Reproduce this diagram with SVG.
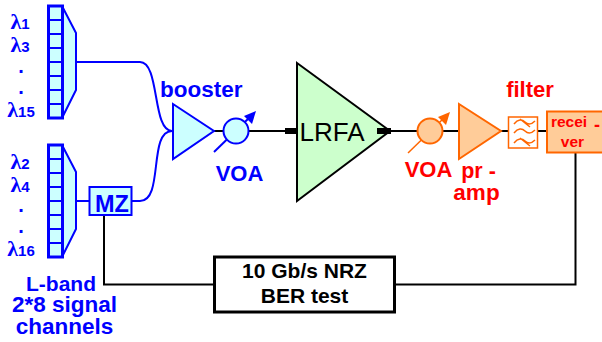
<svg xmlns="http://www.w3.org/2000/svg" width="602" height="342" viewBox="0 0 602 342">
<style>
text{font-family:"Liberation Sans",Arial,sans-serif;font-weight:700}
.b{fill:#0000ff}.r{fill:#ff0000}.k{fill:#000}
.c{text-anchor:middle}
.l{font-family:"Liberation Serif",serif;font-size:22px}
.s{font-size:15px;font-family:"Liberation Sans",Arial,sans-serif}
.d{font-size:20px}
.bs{fill:#ccffff;stroke:#0000ff;stroke-width:2}
.os{fill:#ffcc99;stroke:#ff6600;stroke-width:2}
.w{fill:none;stroke:#000;stroke-width:2}
.bw{fill:none;stroke:#0000ff;stroke-width:2}
.ow{fill:none;stroke:#ff6600;stroke-width:1.5}
</style>
<defs>
<g id="demux">
<path class="bs" d="M62 0L76 27V84L62 112Z"/>
<rect x="48.500" y="0" width="14" height="112" fill="#ccffff" stroke="#0000ff" stroke-width="3"/>
<path d="M48 14H62M48 28H62M48 42H62M48 56H62M48 70H62M48 84H62M48 98H62" fill="none" stroke="#0000ff" stroke-width="2"/>
</g>
</defs>
<g id="connectors">
<path class="bw" d="M76 62H140C160 62 152 131 172 131"/>
<path class="bw" d="M76 201H89"/>
<path class="bw" d="M132 201H140C164 201 148 131 172 131"/>
<path class="w" d="M214 131H224M248 131H298M390 131H418M442 131H460M500 131H509M537 131H547"/>
<path class="w" d="M104 215V284.500H215M395 284.500H575.500V153"/>
</g>
<g id="mux1"><use href="#demux" y="6"/>
<text class="b c l" x="20" y="29">λ<tspan class="s">1</tspan></text>
<text class="b c l" x="20" y="52">λ<tspan class="s">3</tspan></text>
<text class="b c d" x="21" y="73">.</text>
<text class="b c d" x="21" y="94">.</text>
<text class="b c l" x="21" y="117">λ<tspan class="s">15</tspan></text>
</g>
<g id="mux2"><use href="#demux" y="145"/>
<text class="b c l" x="20" y="169">λ<tspan class="s">2</tspan></text>
<text class="b c l" x="20" y="192">λ<tspan class="s">4</tspan></text>
<text class="b c d" x="21" y="212">.</text>
<text class="b c d" x="21" y="233">.</text>
<text class="b c l" x="21" y="256">λ<tspan class="s">16</tspan></text>
</g>
<g id="label-lband">
<text class="b c" x="61" y="291" font-size="21">L-band</text>
<text class="b c" x="64.500" y="312" font-size="22.500">2*8 signal</text>
<text class="b c" x="64.500" y="334" font-size="22.500">channels</text>
</g>
<g id="mz">
<rect class="bs" x="89.500" y="187" width="42" height="28" stroke-width="3"/>
<text class="b c" x="112" y="212" font-size="23.500">MZ</text>
</g>
<g id="booster">
<path class="bs" d="M173 104L214 131L173 159Z"/>
<text class="b" x="160" y="97" font-size="22.500">booster</text>
</g>
<g id="voa1">
<path class="bw" d="M214 152L250 117"/>
<path d="M256 111L252 124L244 116Z" fill="#0000ff"/>
<circle class="bs" cx="236" cy="131" r="12.500"/>
<text class="b c" x="239.500" y="181" font-size="22">VOA</text>
</g>
<g id="lrfa">
<path d="M297 63L390 131L297 201Z" fill="#ccffcc" stroke="#000" stroke-width="2"/>
<path d="M285 128H298V134H285ZM377 128H391V134H377Z" fill="#000"/>
<text class="k c" x="332" y="141" font-size="26" style="font-weight:400">LRFA</text>
</g>
<g id="voa2">
<path class="ow" d="M408 153L444 118" stroke-width="2"/>
<path d="M450 112L446 125L438 117Z" fill="#ff6600"/>
<circle class="os" cx="430" cy="131" r="12.500"/>
<text class="r c" x="428.500" y="177" font-size="22">VOA</text>
</g>
<g id="pre-amp">
<path class="os" d="M459 104L501 131L459 159Z" stroke-width="2.500"/>
<text class="r c" x="478.500" y="178" font-size="21.500">pr -</text>
<text class="r c" x="476.500" y="200" font-size="22.500">amp</text>
</g>
<g id="filter">
<rect x="508.500" y="117" width="29" height="31" fill="#fff" stroke="#ff6600" stroke-width="1.500"/>
<path class="ow" d="M514 124C518 119 522 119 525 122S531 125 535 121M514 133C518 128 522 128 525 131S531 134 535 130M514 143C518 138 522 138 525 141S531 144 535 140M520 119L530 127M520 138L530 146" stroke-width="1"/>
<text class="r c" x="530" y="97" font-size="22">filter</text>
</g>
<g id="receiver">
<rect class="os" x="547" y="111.500" width="56" height="41" stroke-width="3"/>
<text class="r c" x="569" y="127" font-size="15.500">recei</text>
<text class="r c" x="572.500" y="147" font-size="15.500">ver</text>
<text class="r" x="594" y="131" font-size="18">-</text>
</g>
<g id="ber">
<rect x="214.500" y="257" width="180" height="55" fill="#fff" stroke="#000" stroke-width="3"/>
<text class="k c" x="304.500" y="278" font-size="21">10 Gb/s NRZ</text>
<text class="k c" x="304.500" y="303" font-size="21">BER test</text>
</g>
</svg>
